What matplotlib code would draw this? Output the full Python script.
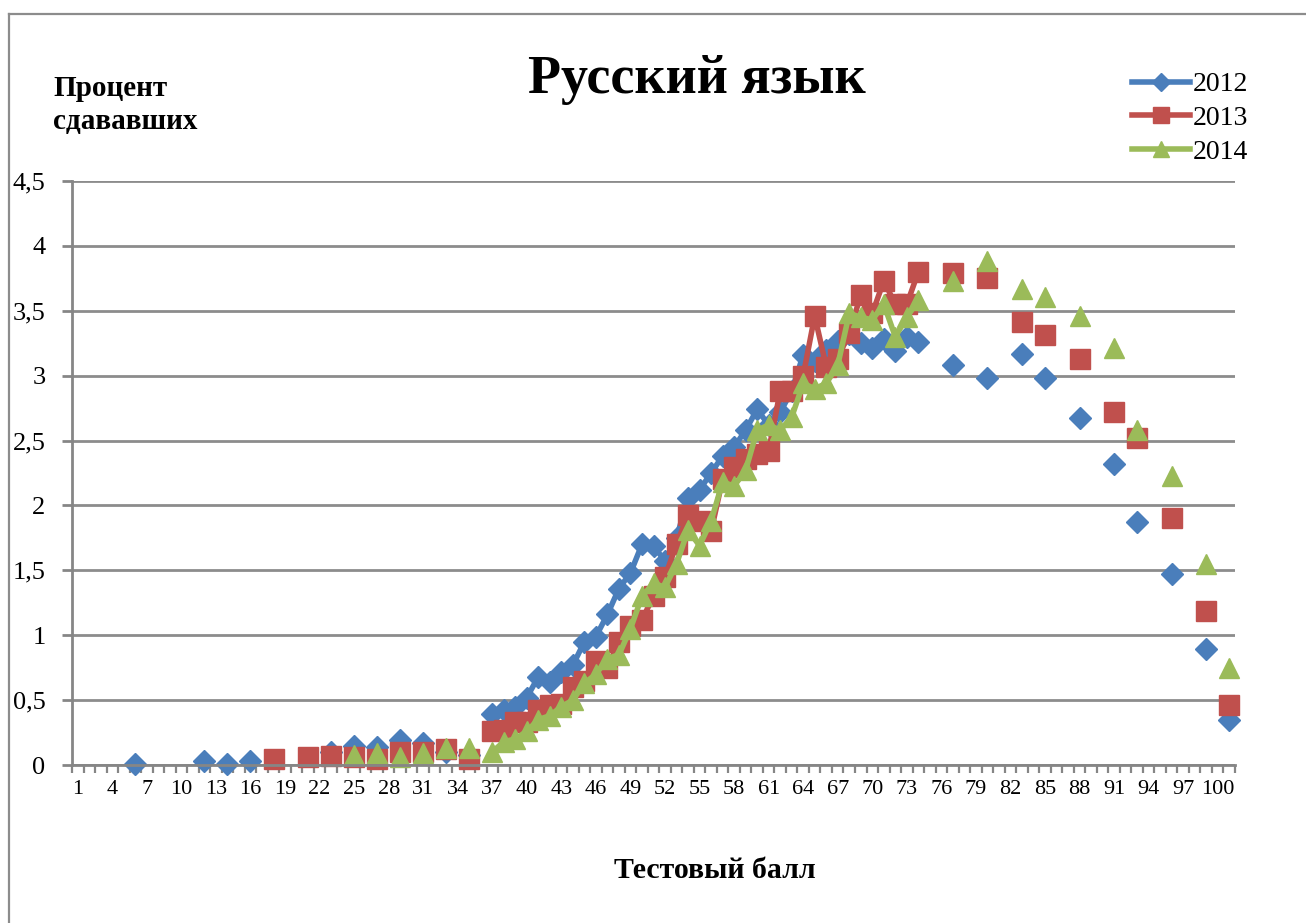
import numpy as np
import matplotlib
matplotlib.use("Agg")
import matplotlib.pyplot as plt
from matplotlib.lines import Line2D

# test score categories 1..101 on the x axis
categories = list(range(1, 102))
tick_labels = list(range(1, 101, 3))

scores_2012 = [6, 12, 14, 16, 23, 25, 27, 29, 31, 33, 35,
               37, 38, 39, 40, 41, 42, 43, 44, 45, 46, 47, 48, 49, 50, 51, 52, 53, 54, 55,
               56, 57, 58, 59, 60, 61, 62, 63, 64, 65, 66, 67, 68, 69, 70, 71, 72, 73, 74,
               77, 80, 83, 85, 88, 91, 93, 96, 99, 101]
pct_2012 = [0.01, 0.03, 0.01, 0.03, 0.10, 0.15, 0.14, 0.19, 0.17, 0.10, 0.08,
            0.39, 0.42, 0.45, 0.52, 0.68, 0.64, 0.72, 0.77, 0.95, 0.99, 1.16, 1.36, 1.48, 1.70, 1.69, 1.57, 1.75, 2.06, 2.12,
            2.25, 2.38, 2.45, 2.58, 2.74, 2.62, 2.72, 2.88, 3.16, 3.11, 3.20, 3.27, 3.32, 3.25, 3.21, 3.28, 3.19, 3.30, 3.26,
            3.08, 2.98, 3.17, 2.98, 2.67, 2.32, 1.87, 1.47, 0.89, 0.35]

scores_2013 = [18, 21, 23, 25, 27, 29, 31, 33, 35,
               37, 38, 39, 40, 41, 42, 43, 44, 45, 46, 47, 48, 49, 50, 51, 52, 53, 54, 55,
               56, 57, 58, 59, 60, 61, 62, 63, 64, 65, 66, 67, 68, 69, 70, 71, 72, 73, 74,
               77, 80, 83, 85, 88, 91, 93, 96, 99, 101]
pct_2013 = [0.05, 0.06, 0.07, 0.06, 0.05, 0.10, 0.10, 0.12, 0.05,
            0.26, 0.27, 0.33, 0.33, 0.42, 0.46, 0.47, 0.60, 0.65, 0.80, 0.75, 0.95, 1.07, 1.12, 1.30, 1.45, 1.70, 1.93, 1.88,
            1.80, 2.20, 2.30, 2.36, 2.40, 2.42, 2.88, 2.88, 3.00, 3.46, 3.07, 3.13, 3.33, 3.62, 3.48, 3.73, 3.55, 3.55, 3.80,
            3.79, 3.75, 3.41, 3.31, 3.13, 2.72, 2.52, 1.90, 1.19, 0.46]

scores_2014 = [25, 27, 29, 31, 33, 35,
               37, 38, 39, 40, 41, 42, 43, 44, 45, 46, 47, 48, 49, 50, 51, 52, 53, 54, 55,
               56, 57, 58, 59, 60, 61, 62, 63, 64, 65, 66, 67, 68, 69, 70, 71, 72, 73, 74,
               77, 80, 83, 85, 88, 91, 93, 96, 99, 101]
pct_2014 = [0.08, 0.09, 0.06, 0.09, 0.13, 0.13,
            0.10, 0.18, 0.20, 0.26, 0.35, 0.38, 0.45, 0.50, 0.63, 0.70, 0.82, 0.85, 1.05, 1.30, 1.40, 1.37, 1.55, 1.81, 1.69,
            1.88, 2.18, 2.15, 2.27, 2.58, 2.62, 2.58, 2.68, 2.94, 2.90, 2.94, 3.08, 3.48, 3.45, 3.43, 3.55, 3.30, 3.45, 3.58,
            3.73, 3.88, 3.67, 3.61, 3.46, 3.21, 2.58, 2.23, 1.55, 0.75]

series = [("2012", scores_2012, pct_2012, "#4A7EBB", "D", 11.5),
          ("2013", scores_2013, pct_2013, "#C0504D", "s", 15),
          ("2014", scores_2014, pct_2014, "#9BBB59", "^", 15)]

serif = ["Liberation Serif", "DejaVu Serif"]
plt.rcParams["font.family"] = serif

fig = plt.figure(figsize=(13.06, 9.23), dpi=100)
W, H = 1306, 923
ax = fig.add_axes([72 / W, 1 - 765 / H, (1235 - 72) / W, (765 - 181) / H])

# outer chart border (partly cut off in the original)
fig.add_artist(Line2D([9 / W, 1], [1 - 14 / H, 1 - 14 / H], color="#8c8c8c", lw=1.6))
fig.add_artist(Line2D([9 / W, 9 / W], [0, 1 - 14 / H], color="#8c8c8c", lw=1.6))

x = np.array(categories, dtype=float)
for name, sc, vals, col, mk, ms in series:
    y = np.full(len(categories), np.nan)
    for s, v in zip(sc, vals):
        y[categories.index(s)] = v
    ax.plot(x, y, color=col, lw=4, marker=mk, ms=ms, mfc=col, mec=col,
            label=name, clip_on=False)

ax.set_xlim(0.5, 101.5)
ax.set_ylim(0, 4.5)
ax.set_yticks(np.arange(0, 4.51, 0.5))
ax.set_yticklabels(["0", "0,5", "1", "1,5", "2", "2,5", "3", "3,5", "4", "4,5"])
ax.set_xticks(tick_labels)
ax.set_xticklabels([str(t) for t in tick_labels])
ax.set_xticks(np.arange(0.5, 102, 1), minor=True)

ax.tick_params(axis="y", direction="out", length=7, width=2, color="#868686",
               labelsize=19, pad=12)
ax.tick_params(axis="x", which="major", length=0, labelsize=16, pad=11)
ax.tick_params(axis="x", which="minor", direction="out", length=6, width=1.6,
               color="#868686")

ax.grid(axis="y", color="#8c8c8c", lw=2)
ax.set_axisbelow(True)
for side in ["top", "right"]:
    ax.spines[side].set_visible(False)
for side in ["left", "bottom"]:
    ax.spines[side].set_color("#868686")
    ax.spines[side].set_linewidth(2)

fig.text(697 / W, 1 - 80 / H, "Русский язык", ha="center", va="center",
         fontsize=39, fontweight="bold")
fig.text(53 / W, 1 - 88 / H, "Процент", ha="left", va="center",
         fontsize=21, fontweight="bold")
fig.text(53 / W, 1 - 122 / H, "сдававших", ha="left", va="center",
         fontsize=21, fontweight="bold")
fig.text(715 / W, 1 - 870 / H, "Тестовый балл", ha="center", va="center",
         fontsize=21.5, fontweight="bold")

ax.legend(loc="upper left", bbox_to_anchor=(1132 / W, 1 - 72 / H),
          bbox_transform=fig.transFigure, frameon=False, fontsize=20,
          handlelength=2.1, handletextpad=0.1, labelspacing=0.3,
          markerscale=0.8, borderpad=0, borderaxespad=0)

fig.savefig("out.png", dpi=100, facecolor="white")
